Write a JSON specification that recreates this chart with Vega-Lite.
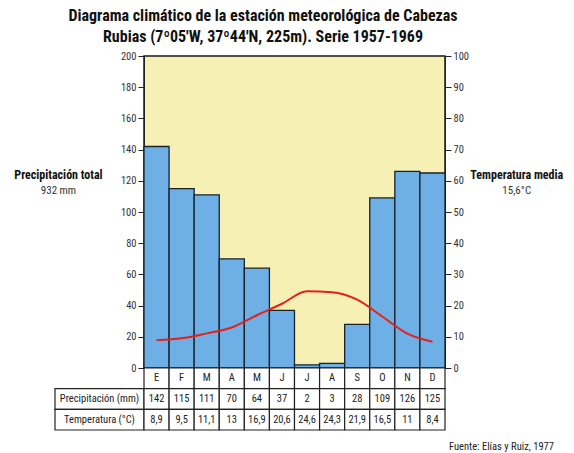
{
  "$schema": "https://vega.github.io/schema/vega-lite/v6.json",
  "padding": {"left": 12, "top": 8, "right": 0, "bottom": 0},
  "background": "white",
  "title": {
    "text": ["Diagrama climático de la estación meteorológica de Cabezas", "Rubias (7º05'W, 37º44'N, 225m). Serie 1957-1969"],
    "fontSize": 16, "fontWeight": "bold", "lineHeight": 21, "anchor": "middle", "dx": -30, "offset": 5, "color": "#111"
  },
  "datasets": {
    "clima": [
      {"n": 1, "mes": "E", "prec": 142, "temp": 8.9, "temp_txt": "8,9"},
      {"n": 2, "mes": "F", "prec": 115, "temp": 9.5, "temp_txt": "9,5"},
      {"n": 3, "mes": "M", "prec": 111, "temp": 11.1, "temp_txt": "11,1"},
      {"n": 4, "mes": "A", "prec": 70, "temp": 13, "temp_txt": "13"},
      {"n": 5, "mes": "M", "prec": 64, "temp": 16.9, "temp_txt": "16,9"},
      {"n": 6, "mes": "J", "prec": 37, "temp": 20.6, "temp_txt": "20,6"},
      {"n": 7, "mes": "J", "prec": 2, "temp": 24.6, "temp_txt": "24,6"},
      {"n": 8, "mes": "A", "prec": 3, "temp": 24.3, "temp_txt": "24,3"},
      {"n": 9, "mes": "S", "prec": 28, "temp": 21.9, "temp_txt": "21,9"},
      {"n": 10, "mes": "O", "prec": 109, "temp": 16.5, "temp_txt": "16,5"},
      {"n": 11, "mes": "N", "prec": 126, "temp": 11, "temp_txt": "11"},
      {"n": 12, "mes": "D", "prec": 125, "temp": 8.4, "temp_txt": "8,4"}
    ]
  },
  "columns": 3,
  "spacing": 0,
  "bounds": "flush",
  "concat": [
    {
      "width": 132, "height": 312,
      "data": {"values": [
        {"lado": "izq", "linea": "titulo", "texto": "Precipitación total"},
        {"lado": "izq", "linea": "valor", "texto": "932 mm"}
      ]},
      "encoding": {
        "x": {"field": "lado", "type": "nominal", "axis": null, "scale": {"type": "point", "padding": 0.5, "align": 0.352}},
        "text": {"field": "texto"}
      },
      "layer": [
        {"transform": [{"filter": "datum.linea == 'titulo'"}], "mark": {"type": "text", "fontWeight": "bold", "fontSize": 12, "color": "#111"},
         "encoding": {"y": {"datum": 123.5, "type": "quantitative", "axis": null, "scale": {"domain": [0, 200], "nice": false}}}},
        {"transform": [{"filter": "datum.linea == 'valor'"}], "mark": {"type": "text", "fontSize": 11, "color": "#333"},
         "encoding": {"y": {"datum": 113.5, "type": "quantitative", "axis": null, "scale": {"domain": [0, 200], "nice": false}}}}
      ]
    },
    {
      "width": 301, "height": 312,
      "view": {"fill": "#F7F0B5", "stroke": "#1a1a1a", "strokeWidth": 1.5},
      "data": {"name": "clima"},
      "layer": [
        {
          "mark": {"type": "bar", "fill": "#6EB0E6", "stroke": "#16222c", "strokeWidth": 1.3},
          "encoding": {
            "x": {"field": "n", "type": "ordinal", "axis": null, "scale": {"paddingInner": 0, "paddingOuter": 0}},
            "y": {"field": "prec", "type": "quantitative", "scale": {"domain": [0, 200], "nice": false},
                  "axis": {"orient": "left", "title": null, "grid": false, "values": [0, 20, 40, 60, 80, 100, 120, 140, 160, 180, 200],
                           "labelFontSize": 10.5, "labelColor": "#333", "tickColor": "#222", "domainColor": "#222", "tickSize": 6, "labelPadding": 2}}
          }
        },
        {
          "mark": {"type": "line", "color": "#E5201B", "strokeWidth": 2, "interpolate": "monotone"},
          "encoding": {
            "x": {"field": "n", "type": "ordinal", "axis": null},
            "y": {"field": "temp", "type": "quantitative", "scale": {"domain": [0, 100], "nice": false},
                  "axis": {"orient": "right", "title": null, "grid": false, "values": [0, 10, 20, 30, 40, 50, 60, 70, 80, 90, 100],
                           "labelFontSize": 10.5, "labelColor": "#333", "tickColor": "#222", "domainColor": "#222", "tickSize": 6, "labelPadding": 2}}
          }
        }
      ],
      "resolve": {"scale": {"y": "independent"}}
    },
    {
      "width": 129, "height": 312,
      "data": {"values": [
        {"lado": "der", "linea": "titulo", "texto": "Temperatura media"},
        {"lado": "der", "linea": "valor", "texto": "15,6°C"}
      ]},
      "encoding": {
        "x": {"field": "lado", "type": "nominal", "axis": null, "scale": {"type": "point", "padding": 0.5, "align": 0.556}},
        "text": {"field": "texto"}
      },
      "layer": [
        {"transform": [{"filter": "datum.linea == 'titulo'"}], "mark": {"type": "text", "fontWeight": "bold", "fontSize": 12, "color": "#111"},
         "encoding": {"y": {"datum": 123.5, "type": "quantitative", "axis": null, "scale": {"domain": [0, 200], "nice": false}}}},
        {"transform": [{"filter": "datum.linea == 'valor'"}], "mark": {"type": "text", "fontSize": 11, "color": "#333"},
         "encoding": {"y": {"datum": 113.5, "type": "quantitative", "axis": null, "scale": {"domain": [0, 200], "nice": false}}}}
      ]
    },
    {
      "width": 132, "height": 62,
      "data": {"values": [
        {"columna": "etiqueta", "fila": "prec", "texto": "Precipitación (mm)"},
        {"columna": "etiqueta", "fila": "temp_txt", "texto": "Temperatura (°C)"}
      ]},
      "encoding": {
        "x": {"field": "columna", "type": "nominal", "axis": null, "scale": {"type": "band", "paddingInner": 0, "paddingOuter": 0.2416, "align": 1}},
        "y": {"field": "fila", "type": "nominal", "axis": null, "scale": {"domain": ["mes", "prec", "temp_txt"], "paddingInner": 0, "paddingOuter": 0}}
      },
      "layer": [
        {"mark": {"type": "rect", "fill": "white", "stroke": "#222", "strokeWidth": 1.2}},
        {"mark": {"type": "text", "fontSize": 10.5, "color": "#222"}, "encoding": {"text": {"field": "texto"}}}
      ]
    },
    {
      "width": 301, "height": 62,
      "data": {"name": "clima"},
      "transform": [{"fold": ["mes", "prec", "temp_txt"], "as": ["fila", "valor"]}],
      "encoding": {
        "x": {"field": "n", "type": "ordinal", "axis": null, "scale": {"paddingInner": 0, "paddingOuter": 0}},
        "y": {"field": "fila", "type": "nominal", "axis": null, "scale": {"domain": ["mes", "prec", "temp_txt"], "paddingInner": 0, "paddingOuter": 0}}
      },
      "layer": [
        {"mark": {"type": "rect", "fill": "white", "stroke": "#222", "strokeWidth": 1.2}},
        {"mark": {"type": "text", "fontSize": 10.5, "color": "#222"}, "encoding": {"text": {"field": "valor", "type": "nominal"}}}
      ]
    },
    {
      "width": 129, "height": 82,
      "data": {"values": [{"lado": "der", "linea": "fuente", "texto": "Fuente: Elías y Ruiz, 1977"}]},
      "mark": {"type": "text", "fontSize": 10.5, "color": "#222"},
      "encoding": {
        "x": {"field": "lado", "type": "nominal", "axis": null, "scale": {"type": "point", "padding": 0.5, "align": 0.438}},
        "y": {"field": "linea", "type": "nominal", "axis": null, "scale": {"type": "point", "padding": 0.5, "align": 0.96}},
        "text": {"field": "texto"}
      }
    }
  ],
  "config": {
    "font": "Liberation Sans Narrow, Roboto Condensed, DejaVu Sans Condensed, Liberation Sans, sans-serif",
    "view": {"stroke": null},
    "title": {"font": "Liberation Sans Narrow, Roboto Condensed, DejaVu Sans Condensed, Liberation Sans, sans-serif"}
  }
}
